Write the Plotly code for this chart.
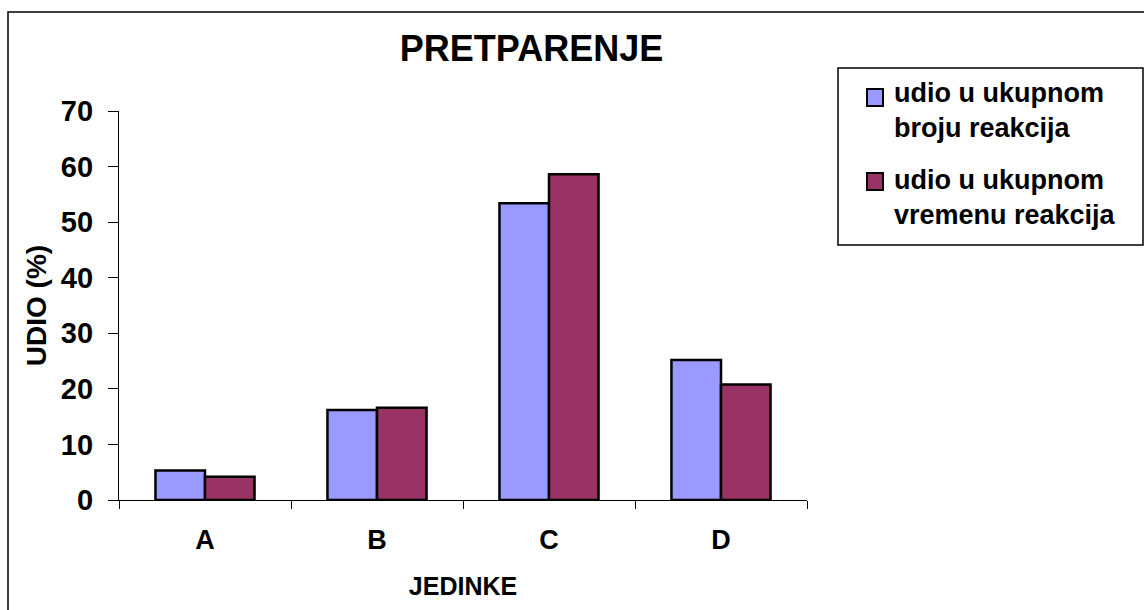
import plotly.graph_objects as go

# --- data ---
CATEGORIES = ["A", "B", "C", "D"]
SERIES_NAMES = ["udio u ukupnom<br>broju reakcija", "udio u ukupnom<br>vremenu reakcija"]
UDIO_BROJ = [5.3, 16.2, 53.4, 25.2]
UDIO_VRIJEME = [4.2, 16.6, 58.6, 20.8]
Y_TICKS = [0, 10, 20, 30, 40, 50, 60, 70]
COLORS = ["#9999FF", "#993366"]

W, H = 1144, 610
ML, MR, MT, MB = 119, 337, 111, 110
PW, PH = W - ML - MR, H - MT - MB
FONT = "Liberation Sans, Arial, sans-serif"


def px(x):
    return (x - ML) / PW


def py(y):
    return (H - MB - y) / PH


fig = go.Figure()
for name, vals, col in zip(SERIES_NAMES, [UDIO_BROJ, UDIO_VRIJEME], COLORS):
    fig.add_trace(go.Bar(
        x=CATEGORIES, y=vals, name=name,
        marker=dict(color=col, line=dict(color="black", width=2.5)),
        showlegend=False,
    ))

shapes = [
    # outer chart frame
    dict(type="rect", xref="paper", yref="paper",
         x0=px(8), x1=px(1152), y0=py(618), y1=py(12),
         line=dict(color="black", width=1.5), fillcolor="rgba(0,0,0,0)", layer="below"),
    # legend frame
    dict(type="rect", xref="paper", yref="paper",
         x0=px(838), x1=px(1143), y0=py(245), y1=py(68),
         line=dict(color="black", width=1.5), fillcolor="white"),
]
annotations = []
swatch_tops = [89, 173]
text_centers = [110, 197]
for col, name, top, cy in zip(COLORS, SERIES_NAMES, swatch_tops, text_centers):
    shapes.append(dict(type="rect", xref="paper", yref="paper",
                       x0=px(867), x1=px(883), y0=py(top + 17), y1=py(top),
                       line=dict(color="black", width=2), fillcolor=col))
    annotations.append(dict(xref="paper", yref="paper", x=px(892), y=py(cy),
                            xanchor="left", yanchor="middle", align="left",
                            text="<b>" + name + "</b>", showarrow=False,
                            font=dict(family=FONT, size=27, color="black")))

fig.update_layout(
    width=W, height=H,
    margin=dict(l=ML, r=MR, t=MT, b=MB),
    paper_bgcolor="white", plot_bgcolor="white",
    barmode="group", bargap=0.424, bargroupgap=0,
    title=dict(text="<b>PRETPARENJE</b>", xref="paper", x=px(531.5),
               yref="container", y=1 - 48 / H, xanchor="center", yanchor="middle",
               font=dict(family=FONT, size=36, color="black")),
    xaxis=dict(
        showline=True, linecolor="black", linewidth=1.2,
        ticks="outside", ticklen=8, tickcolor="black", tickwidth=1.2,
        tickson="boundaries", showgrid=False,
        tickfont=dict(family=FONT, size=27, color="black", weight="bold"),
        ticklabelstandoff=15,
        title=dict(text="<b>JEDINKE</b>", standoff=23,
                   font=dict(family=FONT, size=25, color="black")),
    ),
    yaxis=dict(
        range=[0, 70], tickvals=Y_TICKS,
        showline=True, linecolor="black", linewidth=1.2,
        ticks="outside", ticklen=10, tickcolor="black", tickwidth=1.2,
        showgrid=False, zeroline=False,
        tickfont=dict(family=FONT, size=29, color="black", weight="bold"),
        ticklabelstandoff=9,
        title=dict(text="<b>UDIO (%)</b>", standoff=6,
                   font=dict(family=FONT, size=28, color="black")),
    ),
    shapes=shapes,
    annotations=annotations,
)
fig.write_html("out.html")
